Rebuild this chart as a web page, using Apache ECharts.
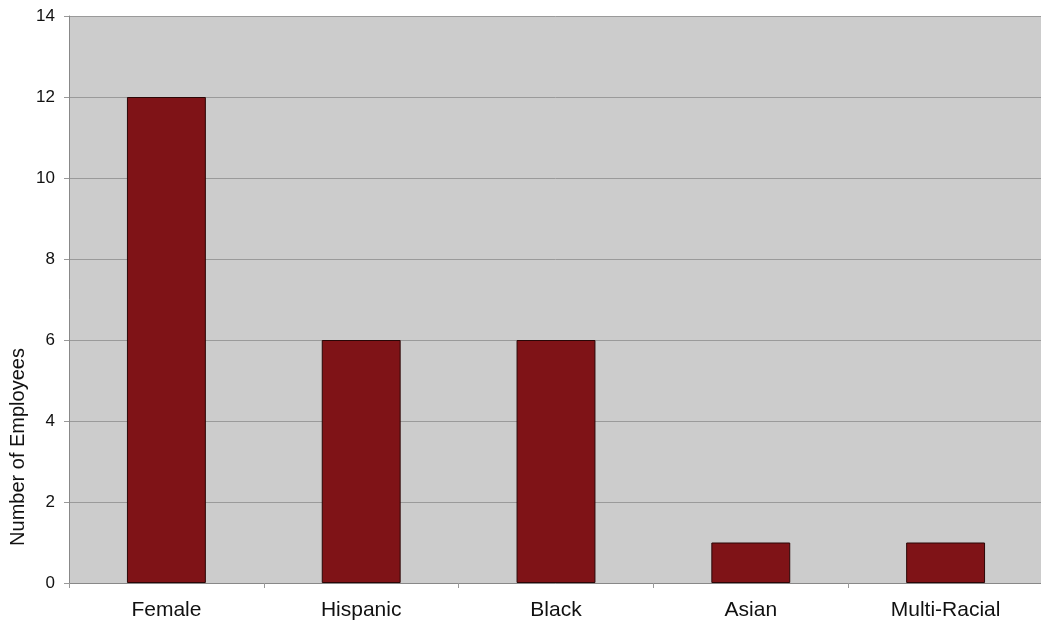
<!DOCTYPE html>
<html>
<head>
<meta charset="utf-8">
<script src="https://cdn.jsdelivr.net/npm/echarts@6/dist/echarts.min.js"></script>
<style>
  html, body { margin: 0; padding: 0; background: #fff; }
  #chart { width: 1041px; height: 625px; }
</style>
</head>
<body>
<div id="chart"></div>
<script>
// groups and head counts
var categories = ['Female', 'Hispanic', 'Black', 'Asian', 'Multi-Racial'];
var employees = [12, 6, 6, 1, 1];
var yTitle = 'Number of Employees';

var chart = echarts.init(document.getElementById('chart'));

var option = {
    animation: false,
    textStyle: { fontFamily: '"Liberation Sans", Arial, sans-serif' },
    grid: {
        left: 69, right: -2, top: 16, bottom: 42,
        outerBoundsMode: 'none',
        containLabel: false,
        show: true,
        backgroundColor: '#cccccc',
        borderWidth: 0
    },
    xAxis: {
        type: 'category',
        data: categories,
        axisLine: { lineStyle: { color: '#888888', width: 1 } },
        axisTick: { show: true, alignWithLabel: false, length: 5, lineStyle: { color: '#999999' } },
        axisLabel: { color: '#111111', fontSize: 21, margin: 17 }
    },
    yAxis: {
        type: 'value',
        min: 0, max: 14, interval: 2,
        axisLine: { show: true, lineStyle: { color: '#888888', width: 1 } },
        axisTick: { show: true, length: 5, lineStyle: { color: '#999999' } },
        axisLabel: { color: '#111111', fontSize: 17, margin: 14 },
        splitLine: { show: true, lineStyle: { color: '#9a9a9a', width: 1 } }
    },
    // axis title sits low on the left side, as in the original
    graphic: [{
        type: 'text',
        x: 18,
        y: 447,
        rotation: Math.PI / 2,
        style: {
            text: yTitle,
            fill: '#111111',
            fontSize: 20,
            fontFamily: '"Liberation Sans", Arial, sans-serif',
            align: 'center',
            verticalAlign: 'middle'
        }
    }],
    series: [{
        type: 'bar',
        data: employees,
        barWidth: '40.5%',
        itemStyle: {
            color: '#7f1317',
            borderColor: '#2a0606',
            borderWidth: 1
        }
    }]
};

chart.setOption(option);
</script>
</body>
</html>
